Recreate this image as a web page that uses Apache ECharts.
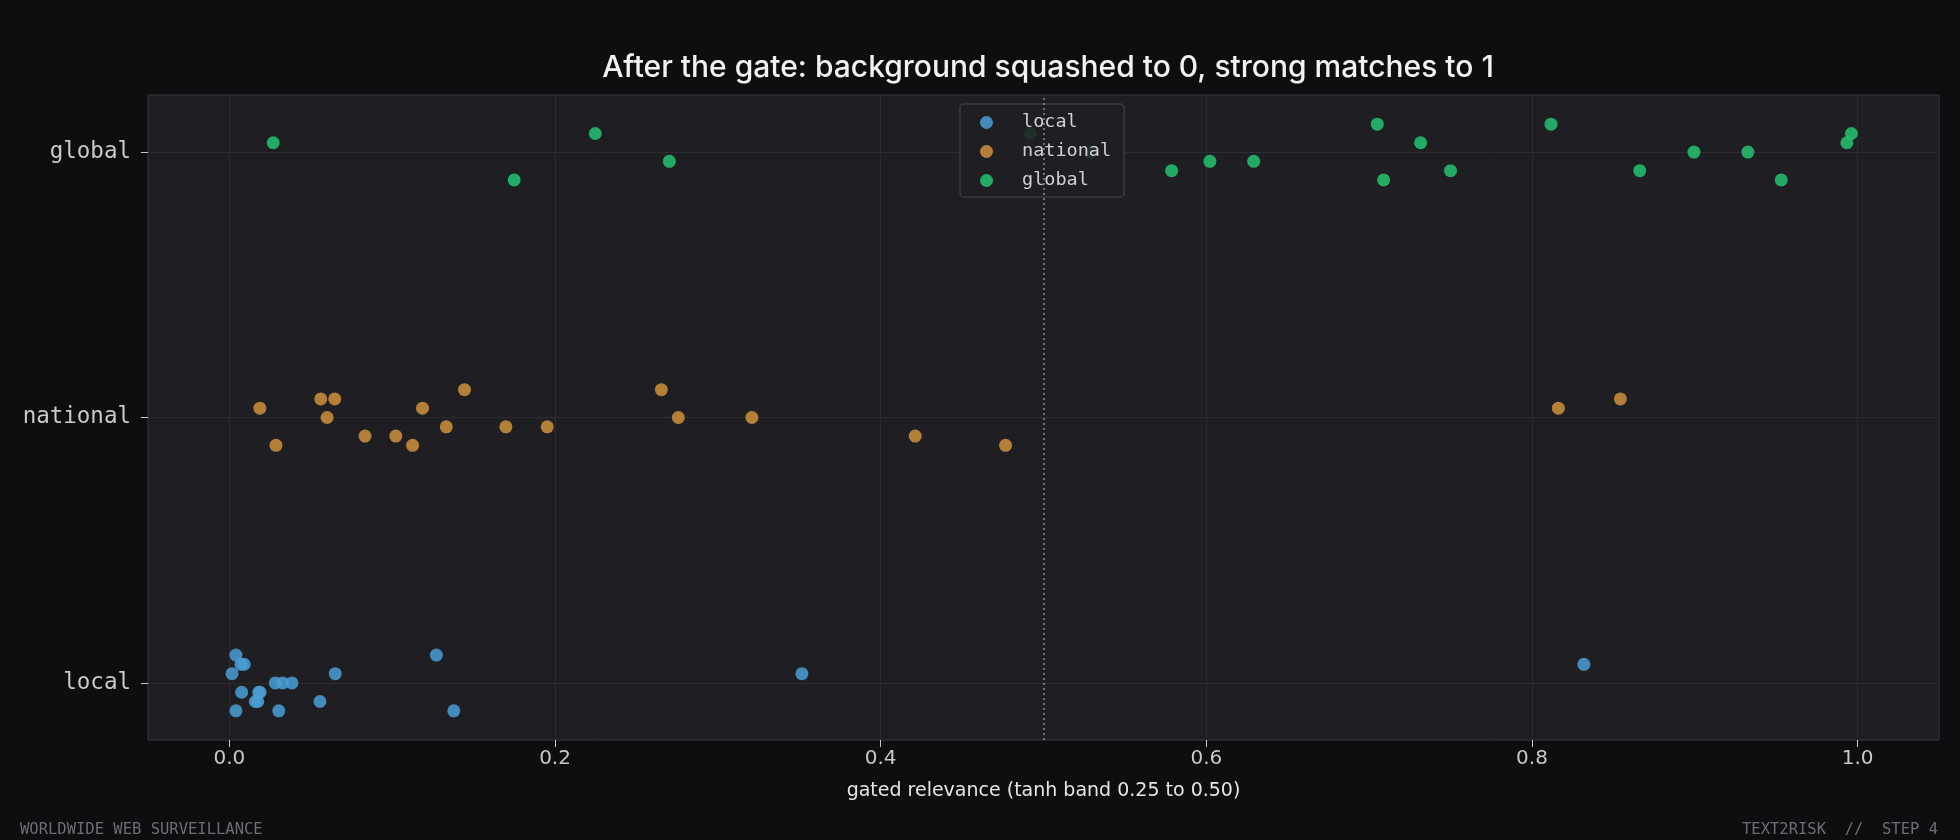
<!DOCTYPE html>
<html>
<head>
<meta charset="utf-8">
<title>After the gate</title>
<script src="https://cdn.jsdelivr.net/npm/echarts@6/dist/echarts.min.js"></script>
<style>
  html, body { margin: 0; padding: 0; background: #0e0e10; }
  #chart { width: 1960px; height: 840px; }
</style>
</head>
<body>
<div id="chart"></div>
<script>
// 类别 (y 轴)
const categories = ['local', 'national', 'global']
const xTicks = [0, 0.2, 0.4, 0.6, 0.8, 1.0]
const gateLine = 0.5

// 每个点: 门控后的相关度 + 类别内的抖动
const localX = [0.0040, 0.0071, 0.0091, 0.0016, 0.0282, 0.0327, 0.0384, 0.0650, 0.0075, 0.0180,
  0.0188, 0.0159, 0.0174, 0.0556, 0.0040, 0.0303, 0.1271, 0.1378, 0.3516, 0.8319]
const localJitter = [0.105, 0.07, 0.07, 0.035, 0, 0, 0, 0.035, -0.035, -0.035,
  -0.035, -0.07, -0.07, -0.07, -0.105, -0.105, 0.105, -0.105, 0.035, 0.07]

const nationalX = [0.0187, 0.0286, 0.0561, 0.0600, 0.0647, 0.0833, 0.1022, 0.1125, 0.1186, 0.1332,
  0.1444, 0.1698, 0.1952, 0.2653, 0.2757, 0.3209, 0.4212, 0.4767, 0.8162, 0.8543]
const nationalJitter = [0.035, -0.105, 0.07, 0, 0.07, -0.07, -0.07, -0.105, 0.035, -0.035,
  0.105, -0.035, -0.035, 0.105, 0, 0, -0.07, -0.105, 0.035, 0.07]

const globalX = [0.0269, 0.1749, 0.2247, 0.2702, 0.4918, 0.5287, 0.5787, 0.6022, 0.6291, 0.7050,
  0.7089, 0.7316, 0.7500, 0.8117, 0.8662, 0.8995, 0.9326, 0.9531, 0.9934, 0.9962]
const globalJitter = [0.035, -0.105, 0.07, -0.035, 0.07, 0, -0.07, -0.035, -0.035, 0.105,
  -0.105, 0.035, -0.07, 0.105, -0.07, 0, 0, -0.105, 0.035, 0.07]

const colors = {
  local: '#4a9fd6',
  national: '#cf923c',
  global: '#25c472'
}

const mono = "'DejaVu Sans Mono', monospace"

function points(xs, jitter, idx) {
  return xs.map((x, i) => [x, idx + jitter[i]])
}

const chart = echarts.init(document.getElementById('chart'))

const seriesList = [
  { name: 'local', data: points(localX, localJitter, 0) },
  { name: 'national', data: points(nationalX, nationalJitter, 1) },
  { name: 'global', data: points(globalX, globalJitter, 2) }
].map(s => ({
  name: s.name,
  type: 'scatter',
  data: s.data,
  symbolSize: 13,
  itemStyle: { color: colors[s.name], opacity: 0.85 }
}))

// 门控阈值的虚线
seriesList[0].markLine = {
  silent: true,
  symbol: 'none',
  label: { show: false },
  lineStyle: { color: '#8e8e93', width: 1.5, type: [2, 3] },
  data: [{ xAxis: gateLine }]
}

const option = {
  backgroundColor: '#0e0e10',
  animation: false,
  title: [
    {
      text: 'After the gate: background squashed to 0, strong matches to 1',
      left: 1043,
      textAlign: 'center',
      top: 48,
      textStyle: { color: '#f2f2f2', fontFamily: 'Inter', fontWeight: 500, fontSize: 30 }
    },
    {
      text: 'WORLDWIDE WEB SURVEILLANCE',
      left: 15,
      top: 817,
      textStyle: { color: '#6e6e73', fontFamily: mono, fontWeight: 'normal', fontSize: 15.5 }
    },
    {
      text: 'TEXT2RISK  //  STEP 4',
      right: 17,
      top: 817,
      textStyle: { color: '#6e6e73', fontFamily: mono, fontWeight: 'normal', fontSize: 15.5 }
    }
  ],
  legend: {
    data: categories,
    orient: 'vertical',
    left: 960,
    top: 104,
    icon: 'circle',
    itemWidth: 13,
    itemHeight: 13,
    itemGap: 10,
    padding: [9, 13, 7, 20],
    backgroundColor: 'rgba(31,31,35,0.88)',
    borderColor: '#3a3a40',
    borderWidth: 1.5,
    borderRadius: 4,
    textStyle: { color: '#d0d0d0', fontFamily: mono, fontSize: 18.5, padding: [0, 0, 0, 24] }
  },
  grid: {
    left: 148,
    right: 21,
    top: 95,
    bottom: 100,
    show: true,
    backgroundColor: '#1f1f23',
    borderColor: '#38383d',
    borderWidth: 1
  },
  xAxis: {
    type: 'value',
    min: -0.05,
    max: 1.05,
    name: 'gated relevance (tanh band 0.25 to 0.50)',
    nameLocation: 'middle',
    nameGap: 42,
    nameTextStyle: { color: '#e6e6e6', fontFamily: 'DejaVu Sans', fontSize: 19 },
    axisLine: { show: false, onZero: false },
    axisTick: { show: true, customValues: xTicks, length: 7, lineStyle: { color: '#c8c8c8' } },
    axisLabel: {
      customValues: xTicks,
      margin: 9,
      color: '#c8c8c8',
      fontFamily: 'DejaVu Sans',
      fontSize: 20,
      formatter: v => v.toFixed(1)
    },
    splitLine: { show: true, lineStyle: { color: '#2b2b30', width: 1 } }
  },
  yAxis: {
    type: 'value',
    min: -0.215,
    max: 2.215,
    axisLine: { show: false, onZero: false },
    axisTick: { show: true, customValues: [0, 1, 2], length: 7, lineStyle: { color: '#c8c8c8' } },
    axisLabel: {
      customValues: [0, 1, 2],
      margin: 17,
      color: '#cacaca',
      fontFamily: mono,
      fontSize: 22.5,
      formatter: v => categories[Math.round(v)]
    },
    splitLine: { show: true, lineStyle: { color: '#2b2b30', width: 1 } }
  },
  series: seriesList
}

chart.setOption(option)
</script>
</body>
</html>
